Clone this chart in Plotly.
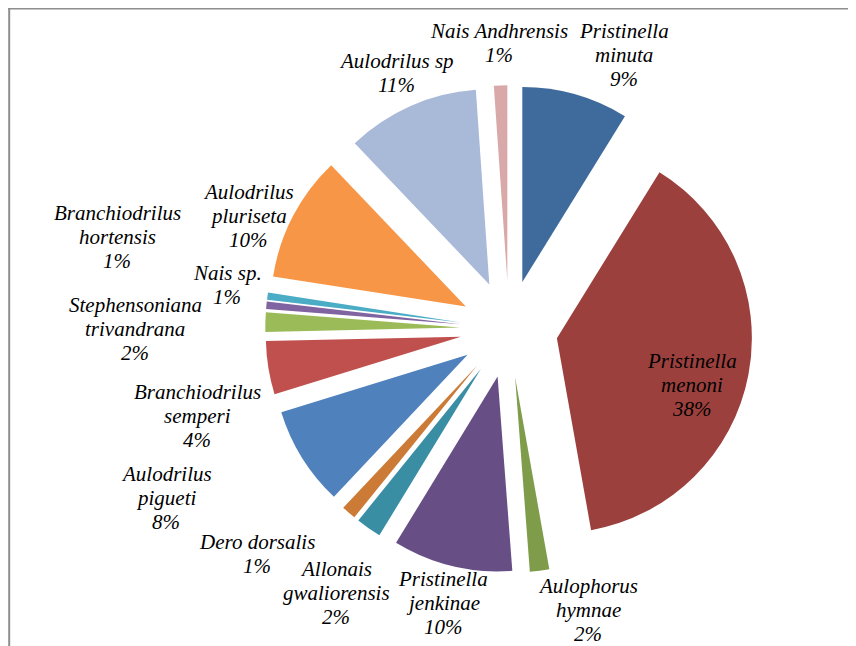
import plotly.graph_objects as go

# page is 856x646; the html body has an 8px default margin
OFF = 8
W, H = 856 - OFF, 646 - OFF

# ---- data (clockwise from 12 o'clock) ----
species = [
    "Pristinella minuta", "Pristinella menoni", "Aulophorus hymnae",
    "Pristinella jenkinae", "Allonais gwaliorensis", "Dero dorsalis",
    "Aulodrilus pigueti", "Branchiodrilus semperi", "Stephensoniana trivandrana",
    "Nais sp.", "Branchiodrilus hortensis", "Aulodrilus pluriseta",
    "Aulodrilus sp", "Nais Andhrensis",
]
share = [8.8, 38.3, 1.6, 9.9, 2.1, 1.2, 8.2, 4.4, 1.6, 0.6, 0.6, 10.4, 11.0, 1.1]
label_lines = [
    ["Pristinella", "minuta"], ["Pristinella", "menoni"], ["Aulophorus", "hymnae"],
    ["Pristinella", "jenkinae"], ["Allonais", "gwaliorensis"], ["Dero dorsalis"],
    ["Aulodrilus", "pigueti"], ["Branchiodrilus", "semperi"], ["Stephensoniana", "trivandrana"],
    ["Nais sp."], ["Branchiodrilus", "hortensis"], ["Aulodrilus", "pluriseta"],
    ["Aulodrilus sp"], ["Nais Andhrensis"],
]
colors = [
    "#3F6A9C", "#9C403E", "#7F9C4A", "#674F86", "#3A8EA4", "#CC7B36",
    "#4F81BD", "#C0504D", "#9BBB59", "#8064A2", "#4BACC6", "#F79646",
    "#A9B9D8", "#D8A9A8",
]

# ---- styling / layout positions (page pixels) ----
label_pos = [
    (624, 55), (692, 385), (588, 610), (443, 603), (336, 593), (257, 554),
    (166, 498), (197, 416), (135, 329), (227, 285), (117, 237), (248, 216),
    (396, 73), (499, 43),
]
line_gap = 24
pie_cx, pie_cy, pie_r, pull = 509 - OFF, 329 - OFF, 195, 0.25
half = pie_r * (1 + pull)

fig = go.Figure(go.Pie(
    labels=species, values=share, sort=False, direction="clockwise", rotation=0,
    pull=[pull] * len(share), textinfo="none", hoverinfo="label+percent",
    marker=dict(colors=colors, line=dict(width=0)),
    domain=dict(x=[(pie_cx - half) / W, (pie_cx + half) / W],
                y=[1 - (pie_cy + half) / H, 1 - (pie_cy - half) / H]),
    showlegend=False,
))

total = sum(share)
annotations = []
for lines, v, (px, py) in zip(label_lines, share, label_pos):
    all_lines = lines + [f"{round(v / total * 100)}%"]
    n = len(all_lines)
    for i, t in enumerate(all_lines):
        y = py - OFF + (i - (n - 1) / 2) * line_gap
        annotations.append(dict(
            x=(px - OFF) / W, y=1 - y / H, xref="paper", yref="paper", text=t,
            showarrow=False, xanchor="center", yanchor="middle",
            font=dict(family="Liberation Serif, Times New Roman, serif", size=21,
                      color="black", style="italic"),
        ))

shapes = [
    dict(type="line", xref="paper", yref="paper", x0=0, x1=1, y0=1 - 0.5 / H, y1=1 - 0.5 / H,
         line=dict(color="#8E8E8E", width=2)),
    dict(type="line", xref="paper", yref="paper", x0=1.2 / W, x1=1.2 / W, y0=0, y1=1,
         line=dict(color="#8E8E8E", width=2)),
]

fig.update_layout(
    width=W, height=H, margin=dict(l=0, r=0, t=0, b=0),
    paper_bgcolor="white", plot_bgcolor="white",
    annotations=annotations, shapes=shapes,
)
fig.write_html("out.html")
